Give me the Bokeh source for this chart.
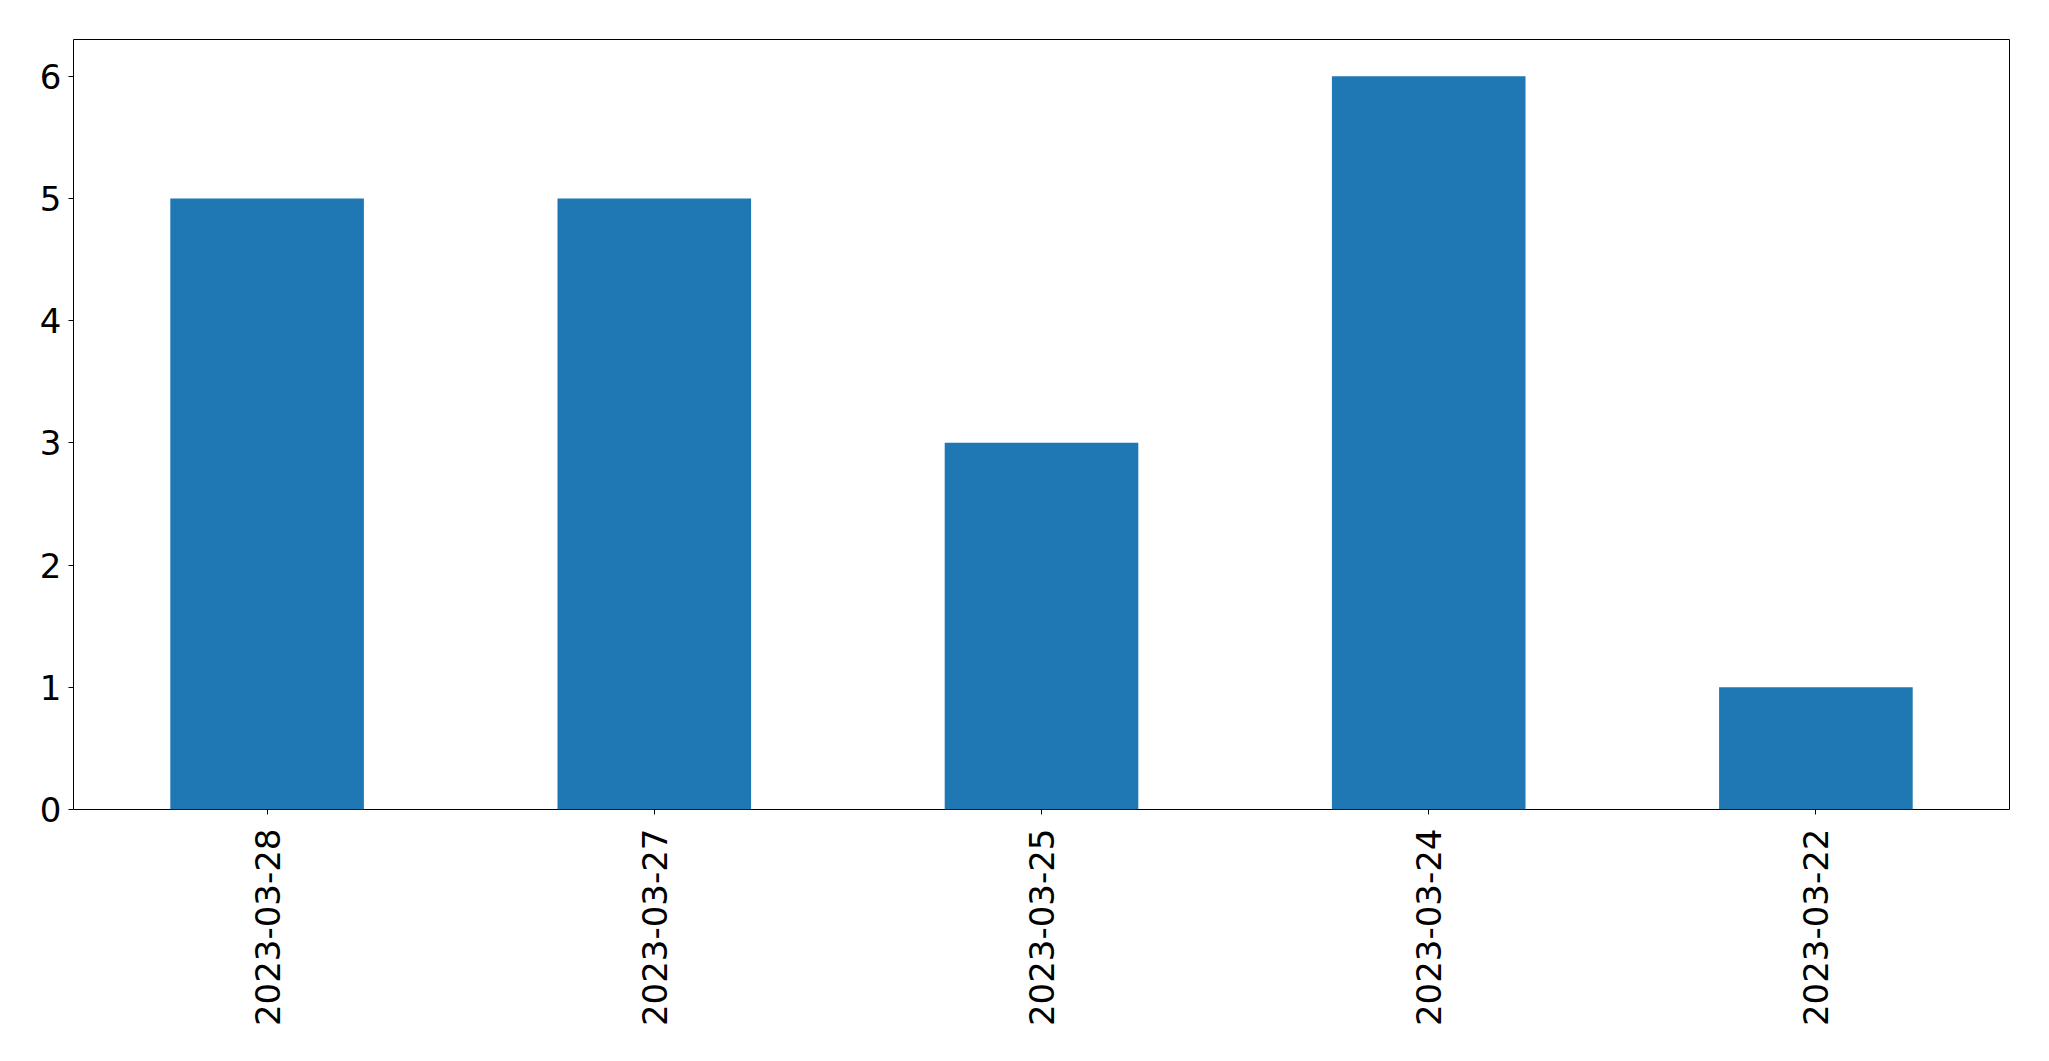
from bokeh.plotting import figure
from bokeh.models import Range1d, FixedTicker, ColumnDataSource
from bokeh.embed import file_html
from bokeh.resources import INLINE
import math

dates = ["2023-03-28", "2023-03-27", "2023-03-25", "2023-03-24", "2023-03-22"]
counts = [5, 5, 3, 6, 1]
y_ticks = [0, 1, 2, 3, 4, 5, 6]

xs = list(range(len(dates)))
src = ColumnDataSource(dict(x=xs, top=counts))

p = figure(width=2041, height=1053, output_backend="svg", toolbar_location=None,
           x_range=Range1d(-0.5, len(dates) - 0.5), y_range=Range1d(0, 6.3),
           min_border_left=73, min_border_right=32, min_border_top=39, min_border_bottom=244)

p.vbar(x="x", top="top", width=0.5, bottom=0, source=src, color="#1f77b4", line_color=None)

p.grid.visible = False
p.outline_line_color = "black"
p.outline_line_width = 1
p.outline_line_alpha = 1

p.xaxis.ticker = FixedTicker(ticks=xs)
p.xaxis.major_label_overrides = {i: d for i, d in enumerate(dates)}
p.xaxis.major_label_orientation = math.pi / 2
p.yaxis.ticker = FixedTicker(ticks=y_ticks)

for ax in (p.xaxis, p.yaxis):
    ax.axis_line_color = None
    ax.major_tick_in = 0
    ax.major_tick_out = 5
    ax.major_tick_line_color = "black"
    ax.minor_tick_line_color = None
    ax.major_label_text_font = "DejaVu Sans"
    ax.major_label_text_font_size = "34px"
    ax.major_label_text_color = "black"

p.xaxis.major_label_standoff = 14
p.yaxis.major_label_standoff = 7

open("out.html", "w").write(file_html(p, INLINE))
